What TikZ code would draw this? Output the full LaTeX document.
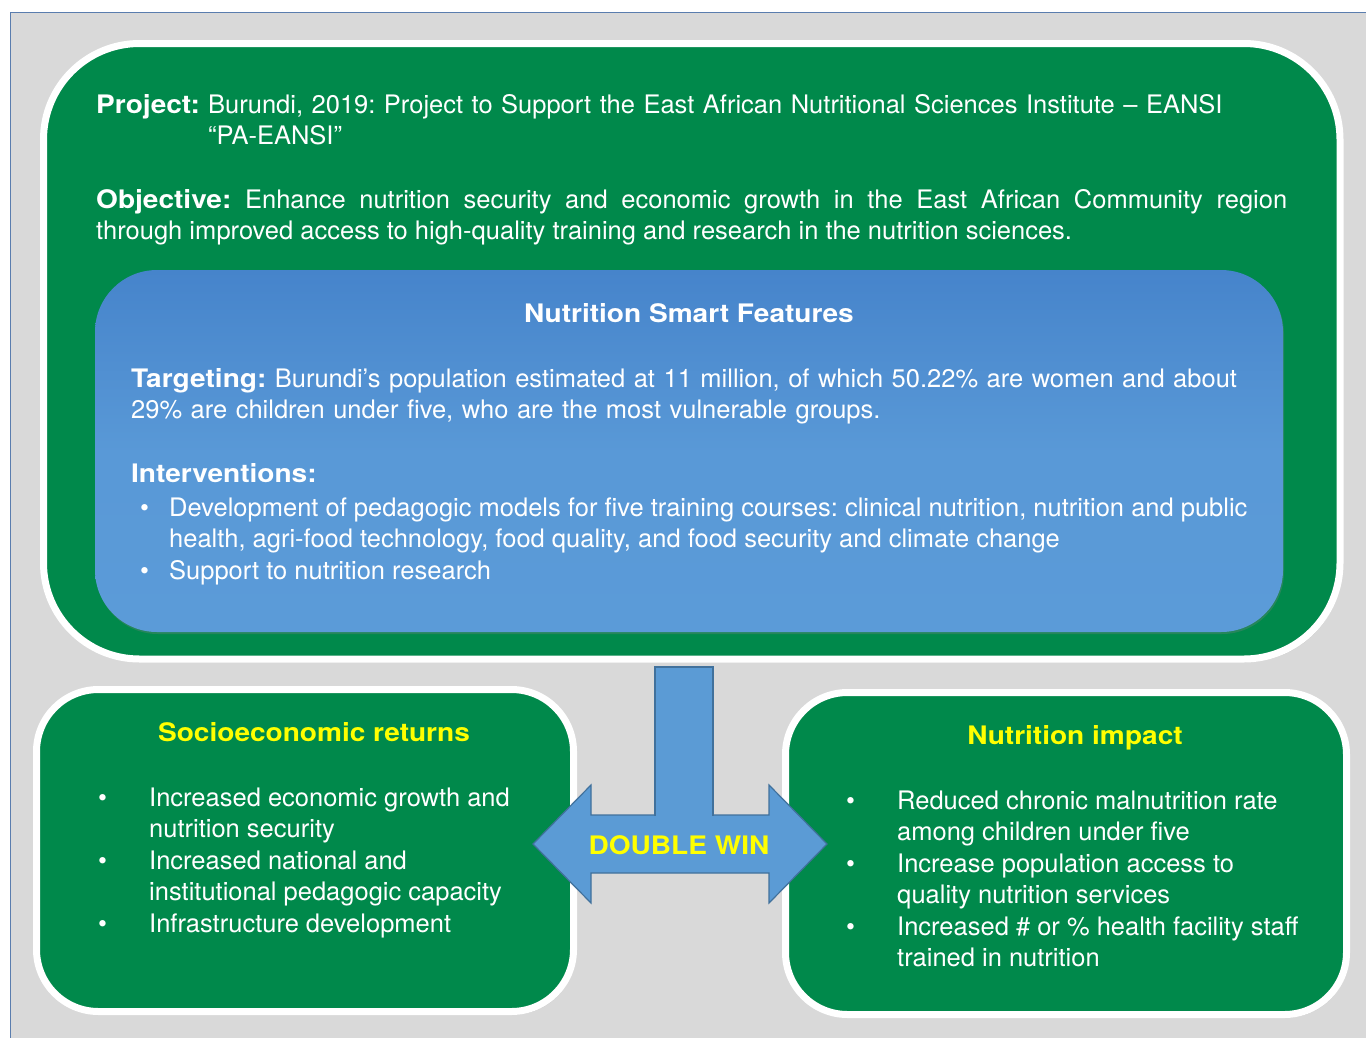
\documentclass[tikz,border=0pt]{standalone}
\usepackage{fontspec}
\setmainfont{TeX Gyre Heros}[BoldFeatures={FakeStretch=1.10}]
\usepackage{enumitem}
\usetikzlibrary{shadows,positioning}
\usepackage{xcolor}

\definecolor{framegray}{HTML}{D9D9D9}
\definecolor{frameblue}{HTML}{5A7DAE}
\definecolor{boxgreen}{HTML}{00894B}
\definecolor{blueA}{HTML}{4684CB}
\definecolor{blueB}{HTML}{5B9BD8}
\definecolor{arrowblue}{HTML}{5B9BD5}
\definecolor{arrowline}{HTML}{41719C}
\definecolor{headyellow}{HTML}{FFFF00}

\newcommand{\bodyfont}{\fontsize{25.5}{31.5}\selectfont\frenchspacing}

\begin{document}
\begin{tikzpicture}[x=1pt, y=-1pt]
    % Стилі
    \tikzstyle{greenbox}=[draw=white, line width=7pt, fill=boxgreen, inner sep=0pt,
        drop shadow={opacity=0.35, shadow xshift=2pt, shadow yshift=-3pt}]
    \tikzstyle{bluebox}=[inner sep=0pt, top color=blueA, bottom color=blueB, middle color=blueB!90!blueA,
        drop shadow={opacity=0.3, shadow xshift=1pt, shadow yshift=-2pt}]
    \tikzstyle{txt}=[inner sep=0pt, text=white, font=\bodyfont, anchor=base west, align=left]
    \tikzstyle{head}=[inner sep=0pt, font=\bodyfont\bfseries, anchor=base]
    \tikzstyle{bullets}=[txt, align=none]
    \setlist[itemize]{label=\textbullet, labelindent=0pt, labelsep=0pt, align=left,
        itemsep=0pt, parsep=0pt, topsep=0pt, partopsep=0pt}

    % Фон і рамка
    \useasboundingbox (0,0) rectangle (1366,1037);
    \draw[fill=framegray, draw=frameblue, line width=1.5pt] (10.5,12.5) rectangle (1380,1050);

    % Верхній блок проєкту
    \node[greenbox, rounded corners=96pt, minimum width=1296.5pt, minimum height=615.5pt] (project) at (691.75,351.25) {};
    \node[txt, font=\bodyfont\bfseries] (projlbl) at (96,113) {Project:};
    \node[txt, text width=1100pt] (projtxt) at (208,113) {Burundi, 2019: Project to Support the East African Nutritional Sciences Institute – EANSI\\“PA-EANSI”};
    \node[txt, text width=1191pt, align=justify] (objtxt) at (96,208) {\textbf{Objective:} Enhance nutrition security and economic growth in the East African Community region\linebreak through improved access to high-quality training and research in the nutrition sciences.};

    % Блок Nutrition Smart Features
    \node[bluebox, rounded corners=62pt, minimum width=1188pt, minimum height=362pt] (smart) at (689,451) {};
    \node[head, text=white] (smarthead) at (689,322) {Nutrition Smart Features};
    \node[txt, text width=1130pt] (targtxt) at (131,387) {\textbf{Targeting:} Burundi’s population estimated at 11 million, of which 50.22\% are women and about\\29\% are children under five, who are the most vulnerable groups.};
    \node[txt, font=\bodyfont\bfseries] (intlbl) at (131,482) {Interventions:};
    \node[bullets, text width=1120pt] (intlist) at (140,484.5) {%
        \begin{itemize}[leftmargin=29pt, labelwidth=29pt]
        \item Development of pedagogic models for five training courses: clinical nutrition, nutrition and public\newline health, agri-food technology, food quality, and food security and climate change
        \item Support to nutrition research
        \end{itemize}};

    % Нижні блоки
    \node[greenbox, rounded corners=62pt, minimum width=537pt, minimum height=322pt] (socio) at (305,850.5) {};
    \node[head, text=headyellow] (sociohead) at (314,741) {Socioeconomic returns};
    \node[bullets, text width=470pt] (sociolist) at (98,774.5) {%
        \begin{itemize}[leftmargin=51pt, labelwidth=51pt]
        \item Increased economic growth and\newline nutrition security
        \item Increased national and\newline institutional pedagogic capacity
        \item Infrastructure development
        \end{itemize}};

    \node[greenbox, rounded corners=62pt, minimum width=561pt, minimum height=322pt] (impact) at (1066,853.5) {};
    \node[head, text=headyellow] (impacthead) at (1075,744) {Nutrition impact};
    \node[bullets, text width=490pt] (impactlist) at (846,777.5) {%
        \begin{itemize}[leftmargin=51pt, labelwidth=51pt]
        \item Reduced chronic malnutrition rate\newline among children under five
        \item Increase population access to\newline quality nutrition services
        \item Increased \# or \% health facility staff\newline trained in nutrition
        \end{itemize}};

    % Подвійна стрілка
    \draw[fill=arrowblue, draw=arrowline, line width=1.2pt, line join=miter]
        (533,844) -- (591,785) -- (591,815) -- (769,815) -- (769,785) -- (827,844)
        -- (769,903) -- (769,873) -- (591,873) -- (591,903) -- cycle;
    \node[head, text=headyellow, anchor=center] (dblwin) at (679,845) {DOUBLE WIN};

    % Стовбур від проєкту до стрілки
    \fill[arrowblue] (655,667) rectangle (713,816);
    \draw[arrowline, line width=1.2pt] (655,815.6) -- (655,667) -- (713,667) -- (713,815.6);
\end{tikzpicture}
\end{document}
